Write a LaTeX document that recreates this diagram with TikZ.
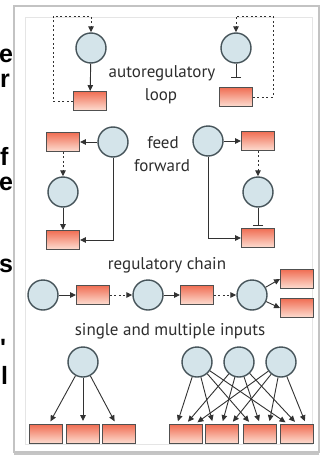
\documentclass[tikz,border=0pt]{standalone}
\usepackage{fontspec}
\setmainfont{PT Sans}
\newfontfamily\pagefont{Liberation Sans}
\usetikzlibrary{arrows.meta,positioning,calc,shadows}
\definecolor{tffill}{RGB}{212,228,234}
\definecolor{tfline}{RGB}{70,84,90}
\definecolor{genetop}{RGB}{240,110,84}
\definecolor{genebottom}{RGB}{253,222,210}
\definecolor{geneline}{RGB}{80,80,80}
\definecolor{edgegray}{RGB}{50,50,50}
\definecolor{labelgray}{RGB}{45,45,45}
\definecolor{cardline}{RGB}{195,195,195}
\tikzset{
    tfnode/.style={circle, draw=tfline, fill=tffill, line width=1.4pt, minimum size=30pt, inner sep=0pt},
    genebox/.style={rectangle, draw=geneline, line width=0.9pt, top color=genetop, bottom color=genebottom, minimum width=33pt, minimum height=19pt, inner sep=0pt},
    actarrow/.style={-{Triangle[length=6pt, width=5.5pt]}, line width=0.9pt, draw=edgegray},
    dotarrow/.style={actarrow, dash pattern=on 2pt off 2.5pt},
    reparrow/.style={-{Bar[width=10pt, line width=1pt]}, line width=0.9pt, draw=edgegray},
    motiflabel/.style={font=\fontsize{17}{19}\selectfont, text=labelgray, inner sep=0pt},
    pagetext/.style={font=\pagefont\bfseries\fontsize{25}{27}\selectfont, inner sep=0pt, anchor=base west},
    card/.style={rectangle, draw=cardline, line width=1.2pt, fill=white, minimum width=305pt, minimum height=446pt,
        drop shadow={opacity=0.45, shadow xshift=0pt, shadow yshift=-3pt}}
}

\begin{document}
\begin{tikzpicture}[x=1pt, y=-1pt]
    \useasboundingbox (0,0) rectangle (324,463);
    \clip (0,0) rectangle (324,463);
    \fill[white] (0,0) rectangle (324,463);

    % page text at the left
    \node[pagetext] (fragA) at (-1,62) {e};
    \node[pagetext] (fragB) at (0,87) {r};
    \node[pagetext] (fragC) at (0,165) {f};
    \node[pagetext] (fragD) at (-1,190) {e};
    \node[pagetext] (fragE) at (-1,272) {s};
    \node[pagetext] (fragF) at (0,356) {'};
    \node[pagetext] (fragG) at (1,384) {l};

    % card
    \node[card] (frame) at (166.5,229) {};
    \draw[gray!20, line width=0.6pt] (25,17) rectangle (312,444);

    % autoregulatory loops
    \node[tfnode] (tfLoopA) at (91,48) {};
    \node[genebox] (geneLoopA) at (90,101) {};
    \coordinate (loopAcorner) at (53,16);
    \draw[actarrow] (tfLoopA) -- (geneLoopA);
    \draw[dotarrow] (geneLoopA.west) -| (loopAcorner) -| (tfLoopA.north);

    \node[tfnode] (tfLoopB) at (236,48) {};
    \node[genebox] (geneLoopB) at (236,97) {};
    \coordinate (loopBcorner) at (273,16);
    \draw[reparrow, shorten >=9pt] (tfLoopB) -- (geneLoopB);
    \draw[dotarrow] (geneLoopB.east) -| (loopBcorner) -| (tfLoopB.north);

    \node[motiflabel] (lblLoopA) at (162,73) {autoregulatory};
    \node[motiflabel] (lblLoopB) at (161,96) {loop};

    % feed forward loops
    \node[genebox] (geneFFA1) at (63,142) {};
    \node[tfnode] (tfFFA1) at (113,142) {};
    \node[tfnode] (tfFFA2) at (63,192) {};
    \node[genebox] (geneFFA2) at (63,240) {};
    \draw[actarrow] (tfFFA1) -- (geneFFA1);
    \draw[dotarrow] (geneFFA1) -- (tfFFA2);
    \draw[actarrow] (tfFFA2) -- (geneFFA2);
    \draw[actarrow] (tfFFA1.south) |- (geneFFA2.east);

    \node[tfnode] (tfFFB1) at (208,141) {};
    \node[genebox] (geneFFB1) at (258,141) {};
    \node[tfnode] (tfFFB2) at (258,192) {};
    \node[genebox] (geneFFB2) at (258,238) {};
    \draw[actarrow] (tfFFB1) -- (geneFFB1);
    \draw[dotarrow] (geneFFB1) -- (tfFFB2);
    \draw[reparrow, shorten >=2pt] (tfFFB2) -- (geneFFB2);
    \draw[actarrow] (tfFFB1.south) |- (geneFFB2.west);

    \node[motiflabel] (lblFFA) at (163,143) {feed};
    \node[motiflabel] (lblFFB) at (162,166) {forward};

    % regulatory chain
    \node[motiflabel] (lblChain) at (167,265) {regulatory chain};
    \node[tfnode] (tfCh1) at (43,295) {};
    \node[genebox] (geneCh1) at (93,295) {};
    \node[tfnode] (tfCh2) at (148,295) {};
    \node[genebox] (geneCh2) at (197,295) {};
    \node[tfnode] (tfCh3) at (252,295) {};
    \node[genebox] (geneCh3) at (297,279) {};
    \node[genebox] (geneCh4) at (297,308) {};
    \draw[actarrow] (tfCh1) -- (geneCh1);
    \draw[dotarrow] (geneCh1) -- (tfCh2);
    \draw[actarrow] (tfCh2) -- (geneCh2);
    \draw[dotarrow] (geneCh2) -- (tfCh3);
    \draw[actarrow] (tfCh3) -- (geneCh3.west);
    \draw[actarrow] (tfCh3) -- (geneCh4.west);

    % single and multiple inputs
    \node[motiflabel] (lblInputs) at (170,331) {single and multiple inputs};
    \node[tfnode] (tfSI) at (83,362) {};
    \foreach \j/\xpos in {1/46, 2/83, 3/119} {
        \node[genebox] (geneSI\j) at (\xpos,434) {};
        \draw[actarrow, shorten >=3pt] (tfSI) -- ([xshift={(2-\j)*3pt}]geneSI\j.north);
    }
    \foreach \i/\xpos in {1/197, 2/239, 3/281}
        \node[tfnode] (tfMI\i) at (\xpos,362) {};
    \foreach \j/\xpos in {1/186, 2/222, 3/260, 4/297}
        \node[genebox] (geneMI\j) at (\xpos,434) {};
    \foreach \i in {1,2,3}
        \foreach \j in {1,...,4}
            \draw[actarrow, shorten >=3pt] (tfMI\i) -- ([xshift={(\i-2)*9pt}]geneMI\j.north);
\end{tikzpicture}
\end{document}
